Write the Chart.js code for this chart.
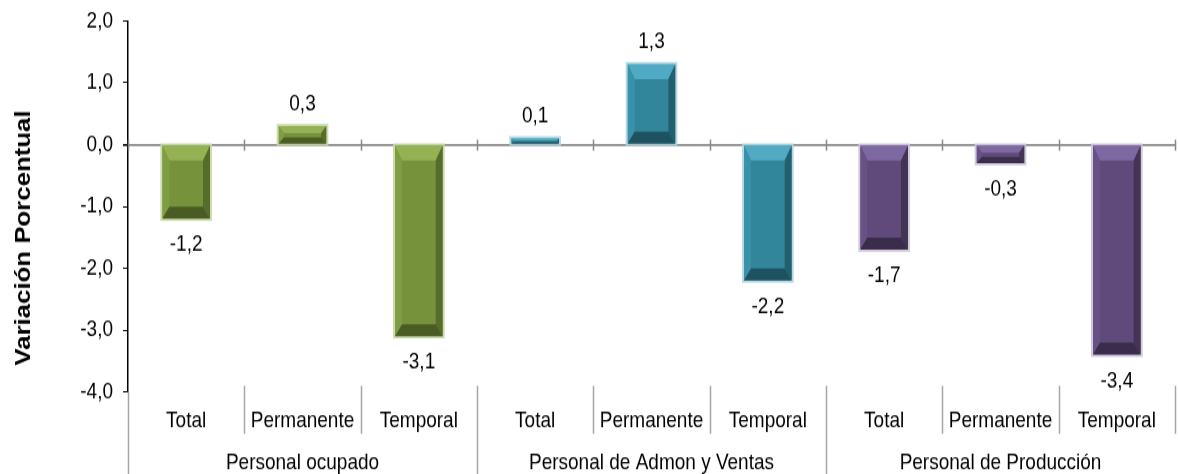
<!DOCTYPE html>
<html>
<head>
<meta charset="utf-8">
<script src="https://cdn.jsdelivr.net/npm/chart.js"></script>
<style>
  html, body { margin: 0; padding: 0; background: #fff; }
  #page { width: 1178px; height: 474px; position: relative; }
  /* the reference looks stretched vertically, so the canvas is drawn short and scaled up */
  #wrap { position: absolute; left: 0; top: 0; width: 1178px; height: 395px; transform: scaleY(1.2); transform-origin: 0 0; }
</style>
</head>
<body>
<div id="page"><div id="wrap"><canvas id="chart"></canvas></div></div>
<script>
const subLabels = ['Total', 'Permanente', 'Temporal', 'Total', 'Permanente', 'Temporal', 'Total', 'Permanente', 'Temporal'];
const groupLabels = ['Personal ocupado', 'Personal de Admon y Ventas', 'Personal de Producción'];
const values = [-1.2, 0.3, -3.1, 0.1, 1.3, -2.2, -1.7, -0.3, -3.4];
const yTicks = [-4, -3, -2, -1, 0, 1, 2];
const axisTitle = 'Variación Porcentual';

const K = 1.2; // vertical stretch
const family = "'Liberation Sans', Arial, sans-serif";
const fmt = v => v.toFixed(1).replace('.', ',');

// bevel colours per group
const looks = [
  { face: '#76933c', top: '#94b153', left: '#7f9d43', right: '#566c2a', bottom: '#4a5c24', glow: 'rgba(200,216,166,0.9)' },
  { face: '#31869b', top: '#50aac3', left: '#3992a9', right: '#23606f', bottom: '#1e5260', glow: 'rgba(176,212,224,0.9)' },
  { face: '#604a7b', top: '#7e68a1', left: '#675185', right: '#433456', bottom: '#3a2c4b', glow: 'rgba(204,196,218,0.9)' }
];
const perGroup = subLabels.length / groupLabels.length;
const lookOf = i => looks[Math.floor(i / perGroup)];

function poly(ctx, pts, color) {
  ctx.beginPath();
  ctx.moveTo(pts[0][0], pts[0][1]);
  for (let k = 1; k < pts.length; k++) ctx.lineTo(pts[k][0], pts[k][1]);
  ctx.closePath();
  ctx.fillStyle = color;
  ctx.fill();
}

const decor = {
  id: 'decor',
  beforeDatasetsDraw(chart) {
    const ctx = chart.ctx, xs = chart.scales.x, ys = chart.scales.y;
    const y0 = ys.getPixelForValue(0);
    const cw = xs.width / subLabels.length;
    ctx.save();
    ctx.strokeStyle = '#878787';
    ctx.lineWidth = 1.5;
    for (let i = 0; i <= subLabels.length; i++) {
      const xb = Math.round(xs.left + i * cw) + 0.5;
      ctx.beginPath();
      ctx.moveTo(xb, y0 - 5 / K);
      ctx.lineTo(xb, y0 + 6 / K);
      ctx.stroke();
    }
    ctx.restore();
  },
  afterDatasetsDraw(chart) {
    const ctx = chart.ctx;
    const meta = chart.getDatasetMeta(0);
    ctx.save();
    meta.data.forEach((el, i) => {
      const p = el.getProps(['x', 'y', 'base', 'width'], true);
      const L = p.x - p.width / 2, R = p.x + p.width / 2;
      const T = Math.min(p.y, p.base), B = Math.max(p.y, p.base);
      const h = B - T;
      const lk = lookOf(i);
      ctx.strokeStyle = lk.glow;
      ctx.lineWidth = 2;
      ctx.strokeRect(L - 1, T - 1 / K, R - L + 2, h + 2 / K);
      const st = Math.min(15 / K, h * 0.4), sb = Math.min(12 / K, h * 0.35), sx = Math.min(7, h * K * 0.3);
      poly(ctx, [[L, T], [R, T], [R - sx, T + st], [L + sx, T + st]], lk.top);
      poly(ctx, [[L, T], [L + sx, T + st], [L + sx, B - sb], [L, B]], lk.left);
      poly(ctx, [[R, T], [R - sx, T + st], [R - sx, B - sb], [R, B]], lk.right);
      poly(ctx, [[L, B], [R, B], [R - sx, B - sb], [L + sx, B - sb]], lk.bottom);
      // value label
      const v = values[i];
      ctx.fillStyle = '#000';
      ctx.font = '19px ' + family;
      ctx.textAlign = 'center';
      ctx.textBaseline = 'middle';
      ctx.fillText(fmt(v), p.x, v >= 0 ? T - 22 / K : B + 26 / K);
    });
    ctx.restore();
  },
  afterDraw(chart) {
    const ctx = chart.ctx, xs = chart.scales.x, area = chart.chartArea;
    const cw = xs.width / subLabels.length;
    const bottom = chart.height;
    ctx.save();
    ctx.strokeStyle = '#a6a6a6';
    ctx.lineWidth = 1.5;
    // left axis extension
    ctx.beginPath();
    ctx.moveTo(area.left + 0.5, area.bottom);
    ctx.lineTo(area.left + 0.5, bottom);
    ctx.stroke();
    for (let i = 1; i <= subLabels.length; i++) {
      const xb = Math.round(xs.left + i * cw) + 0.5;
      const isGroup = i % perGroup === 0 && i < subLabels.length;
      ctx.beginPath();
      ctx.moveTo(xb, area.bottom - 6 / K);
      ctx.lineTo(xb, isGroup ? bottom : area.bottom + 42 / K);
      ctx.stroke();
    }
    // axis title
    ctx.translate(24, 238 / K);
    ctx.rotate(-Math.PI / 2);
    ctx.fillStyle = '#000';
    ctx.font = 'bold 21.5px ' + family;
    ctx.textAlign = 'center';
    ctx.textBaseline = 'middle';
    ctx.fillText(axisTitle, 0, 0);
    ctx.restore();
  }
};

const labelFont = { family: family, size: 19 };

new Chart(document.getElementById('chart'), {
  type: 'bar',
  data: {
    labels: subLabels,
    datasets: [{
      data: values,
      backgroundColor: values.map((v, i) => lookOf(i).face),
      borderWidth: 0,
      categoryPercentage: 1,
      barPercentage: 0.41
    }]
  },
  options: {
    responsive: true,
    maintainAspectRatio: false,
    animation: false,
    layout: { padding: { top: 21 / K, right: 3, left: 0, bottom: 0 } },
    plugins: { legend: { display: false }, tooltip: { enabled: false } },
    scales: {
      y: {
        min: -4,
        max: 2,
        afterBuildTicks: s => { s.ticks = yTicks.map(v => ({ value: v })); },
        afterFit: s => { s.width = 128; s.paddingTop = 0; s.paddingBottom = 0; },
        ticks: { color: '#000', font: labelFont, padding: 10, callback: v => fmt(v) },
        grid: {
          color: c => (c.tick && c.tick.value === 0 ? '#878787' : 'rgba(0,0,0,0)'),
          lineWidth: c => (c.tick && c.tick.value === 0 ? 2 / K : 1),
          tickColor: '#000',
          tickLength: 5
        },
        border: { color: '#000', width: 1.5 }
      },
      x: {
        position: 'bottom',
        afterFit: s => { s.height = 43.5; },
        grid: { display: false, drawTicks: false },
        border: { display: false },
        ticks: { color: '#000', font: labelFont, padding: 13, autoSkip: false, maxRotation: 0 }
      },
      x2: {
        type: 'category',
        position: 'bottom',
        labels: groupLabels,
        offset: true,
        afterFit: s => { s.height = 25; },
        grid: { display: false, drawTicks: false },
        border: { display: false },
        ticks: { color: '#000', font: labelFont, padding: 4, autoSkip: false, maxRotation: 0 }
      }
    }
  },
  plugins: [decor]
});
</script>
</body>
</html>
